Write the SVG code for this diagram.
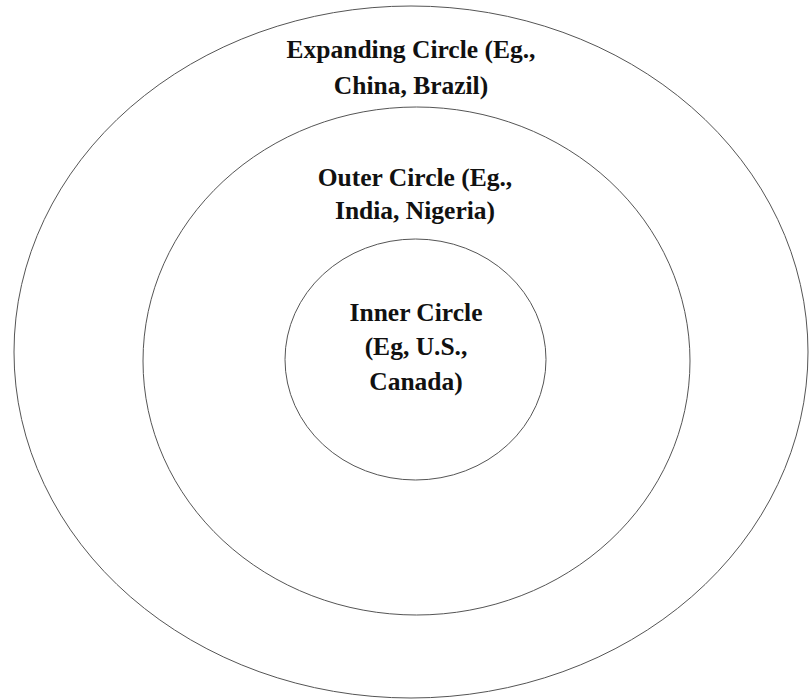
<svg xmlns="http://www.w3.org/2000/svg" width="809" height="700" viewBox="0 0 809 700">
<style>
.c{fill:none;stroke:#555;stroke-width:1}
.t{font-family:"Liberation Serif","Times New Roman",serif;font-weight:bold;font-size:25.5px;fill:#111;text-anchor:middle}
</style>
<rect width="809" height="700" fill="#fff"/>
<g id="expanding">
<ellipse class="c" cx="411" cy="352" rx="397" ry="346"/>
<text class="t" x="411" y="58">Expanding Circle (Eg.,</text>
<text class="t" x="411" y="94">China, Brazil)</text>
</g>
<g id="outer">
<ellipse class="c" cx="416.5" cy="361" rx="273.5" ry="254"/>
<text class="t" x="415" y="186">Outer Circle (Eg.,</text>
<text class="t" x="415" y="219">India, Nigeria)</text>
</g>
<g id="inner">
<ellipse class="c" cx="415.5" cy="359.5" rx="130.5" ry="120.5"/>
<text class="t" x="416" y="321">Inner Circle</text>
<text class="t" x="416" y="355">(Eg, U.S.,</text>
<text class="t" x="416" y="390">Canada)</text>
</g>
<g id="connectors"/>
</svg>
